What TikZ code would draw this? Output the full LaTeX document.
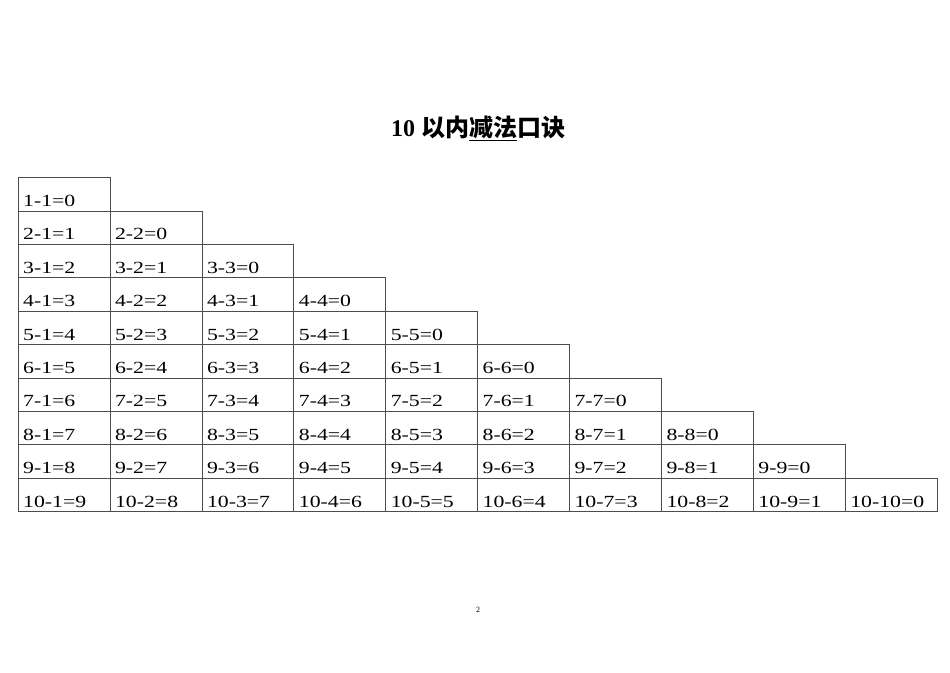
\documentclass[tikz,border=0pt]{standalone}
\usepackage{fontspec}
\setmainfont{Liberation Serif}
\newfontfamily\cellfont[FakeStretch=1.28]{Liberation Serif}
\newfontfamily\cjk{Noto Sans CJK SC}
\begin{document}
\begin{tikzpicture}[x=1pt,y=-1pt,
  cell/.style={draw=black!70,line width=0.6pt},
  lab/.style={anchor=base west,inner sep=0pt,font=\cellfont\fontsize{17}{17}\selectfont}]
\useasboundingbox (0,0) rectangle (950,672);
\node[anchor=base,inner sep=0pt] (title) at (478,136)
  {\fontsize{24}{24}\selectfont\textbf{10} {\cjk\bfseries 以内\underline{减法}口诀}};
\foreach \r in {1,...,10}{
  \foreach \c in {1,...,\r}{
    \pgfmathsetmacro{\xa}{18+(\c-1)*91.9}
    \pgfmathsetmacro{\ya}{177.5+(\r-1)*33.4}
    \pgfmathtruncatemacro{\res}{\r-\c}
    \draw[cell] (\xa,\ya) rectangle ++(91.9,33.4);
    \node[lab] (c\r-\c) at (\xa+5,\ya+29) {\r-\c=\res};
  }
}
\node[font=\fontsize{8}{8}\selectfont] (pg) at (478,610) {2};
\end{tikzpicture}
\end{document}
